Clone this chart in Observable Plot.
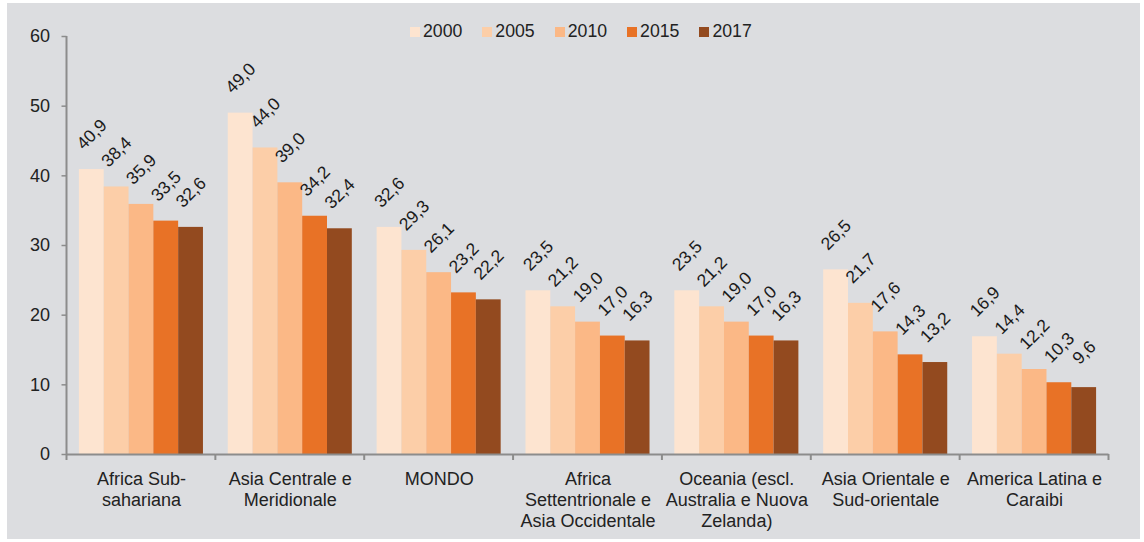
<!DOCTYPE html>
<html>
<head>
<meta charset="utf-8">
<script src="https://cdn.jsdelivr.net/npm/d3@7"></script>
<script src="https://cdn.jsdelivr.net/npm/@observablehq/plot@0.6"></script>
<style>
  html, body { margin: 0; padding: 0; background: #ffffff; }
  #wrap { position: relative; width: 1144px; height: 542px; overflow: hidden; }
  #chart { position: absolute; left: 7px; top: 3px; }
  #legend { position: absolute; left: 410px; top: 23px; display: flex; font: 17.7px "Liberation Sans", Arial, sans-serif; color: #222; line-height: 17.5px; }
  #legend .item { display: flex; align-items: flex-start; margin-right: 20px; }
  #legend .sw { width: 10px; height: 10px; margin-top: 3.7px; margin-right: 3px; }
</style>
</head>
<body>
<div id="wrap">
  <div id="chart"></div>
  <div id="legend"></div>
</div>
<script>
// ---- data ----
const categories = [
  "Africa Sub-sahariana",
  "Asia Centrale e Meridionale",
  "MONDO",
  "Africa Settentrionale e Asia Occidentale",
  "Oceania (escl. Australia e Nuova Zelanda)",
  "Asia Orientale e Sud-orientale",
  "America Latina e Caraibi"
];
const categoryLabels = [
  "Africa Sub-\nsahariana",
  "Asia Centrale e\nMeridionale",
  "MONDO",
  "Africa\nSettentrionale e\nAsia Occidentale",
  "Oceania (escl.\nAustralia e Nuova\nZelanda)",
  "Asia Orientale e\nSud-orientale",
  "America Latina e\nCaraibi"
];
const years = ["2000", "2005", "2010", "2015", "2017"];
const values2000 = [40.9, 49.0, 32.6, 23.5, 23.5, 26.5, 16.9];
const values2005 = [38.4, 44.0, 29.3, 21.2, 21.2, 21.7, 14.4];
const values2010 = [35.9, 39.0, 26.1, 19.0, 19.0, 17.6, 12.2];
const values2015 = [33.5, 34.2, 23.2, 17.0, 17.0, 14.3, 10.3];
const values2017 = [32.6, 32.4, 22.2, 16.3, 16.3, 13.2, 9.6];
const yTicks = [0, 10, 20, 30, 40, 50, 60];
const colors = ["#fde4d0", "#fccea8", "#fbb886", "#e87226", "#934a1f"];

// ---- build table ----
const series = [values2000, values2005, values2010, values2015, values2017];
const table = categories.flatMap((c, i) => years.map((y, j) => ({category: c, year: y, value: series[j][i]})));
const labelOf = new Map(categories.map((c, i) => [c, categoryLabels[i]]));
const fmt = v => d3.format(".1f")(v).replace(".", ",");

const axisColor = "#8c8c8c";
const font = '"Liberation Sans", Arial, sans-serif';

const plot = Plot.plot({
  width: 1133,
  height: 536,
  marginLeft: 59.5,
  marginRight: 31.5,
  marginTop: 33,
  marginBottom: 85,
  style: {background: "#dcdde0", fontFamily: font, fontSize: "17.5px", color: "#222", overflow: "visible"},
  fx: {domain: categories, padding: 0, round: false, label: null},
  x: {domain: years, paddingInner: 0, paddingOuter: 0.5, round: false, axis: null},
  y: {domain: [yTicks[0], yTicks[yTicks.length - 1]], label: null},
  color: {domain: years, range: colors},
  marks: [
    Plot.barY(table, {fx: "category", x: "year", y: "value", fill: "year"}),
    Plot.ruleY([0], {stroke: axisColor, strokeWidth: 2}),
    Plot.ruleX(categories, {
      x: null,
      fx: d => d,
      render: (index, scales, values, dims) => {
        const g = d3.create("svg:g").attr("stroke", axisColor).attr("stroke-width", 2).attr("fill", "none");
        const y0 = scales.y(yTicks[0]);
        const yTop = scales.y(yTicks[yTicks.length - 1]);
        const left = dims.marginLeft;
        const right = dims.width - dims.marginRight;
        for (const i of index) {
          g.append("line").attr("x1", left).attr("x2", left).attr("y1", y0).attr("y2", y0 + 6);
          if (i === 0) g.append("line").attr("x1", left).attr("x2", left).attr("y1", yTop).attr("y2", y0);
          if (i === categories.length - 1) g.append("line").attr("x1", right).attr("x2", right).attr("y1", y0).attr("y2", y0 + 6);
        }
        return g.node();
      }
    }),
    Plot.axisY({ticks: yTicks, tickSize: 5, tickPadding: 12, stroke: axisColor, strokeWidth: 1.5, fill: "#222", label: null, fontSize: 18}),
    Plot.axisFx({anchor: "bottom", tickSize: 0, tickPadding: 15, lineHeight: 1.18, tickFormat: d => labelOf.get(d), label: null, fill: "#222", fontSize: 18}),
    Plot.text(table, {fx: "category", x: "year", y: "value", text: d => fmt(d.value), rotate: -45, dy: -35, fontSize: 17.5, fill: "#1a1a1a"})
  ]
});
document.getElementById("chart").appendChild(plot);

// ---- legend ----
const legend = d3.select("#legend");
years.forEach((y, j) => {
  const it = legend.append("div").attr("class", "item");
  it.append("div").attr("class", "sw").style("background", colors[j]);
  it.append("span").text(y);
});
</script>
</body>
</html>
